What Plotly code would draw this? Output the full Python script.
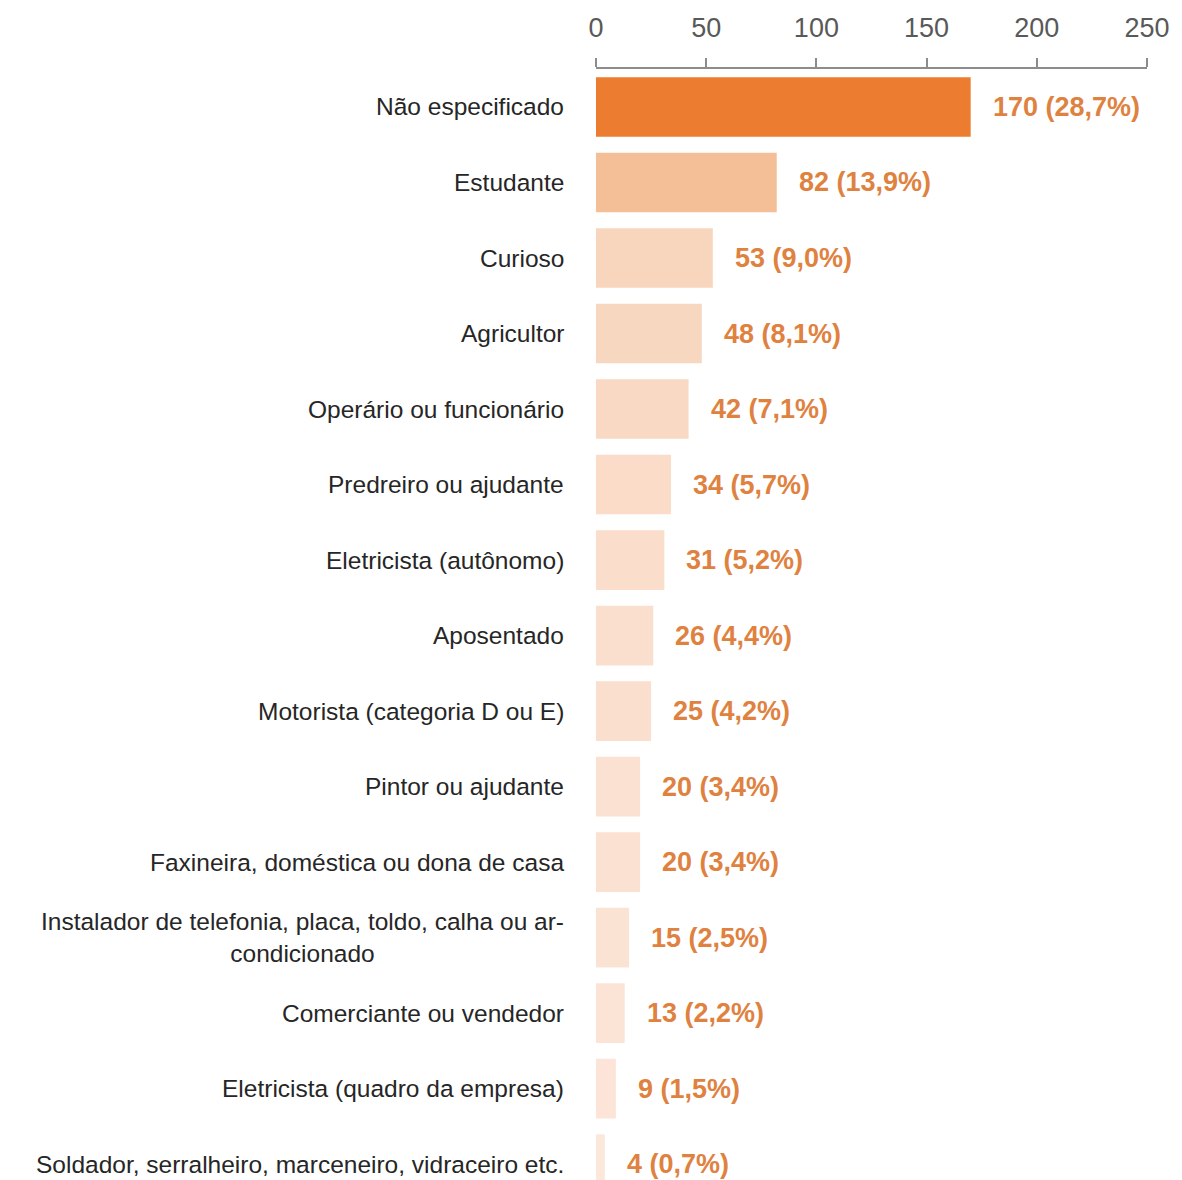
import plotly.graph_objects as go

# Occupations, counts and shares (%)
categories = [
    "Não especificado",
    "Estudante",
    "Curioso",
    "Agricultor",
    "Operário ou funcionário",
    "Predreiro ou ajudante",
    "Eletricista (autônomo)",
    "Aposentado",
    "Motorista (categoria D ou E)",
    "Pintor ou ajudante",
    "Faxineira, doméstica ou dona de casa",
    "Instalador de telefonia, placa, toldo, calha ou ar-<br>condicionado",
    "Comerciante ou vendedor",
    "Eletricista (quadro da empresa)",
    "Soldador, serralheiro, marceneiro, vidraceiro etc.",
]
counts = [170, 82, 53, 48, 42, 34, 31, 26, 25, 20, 20, 15, 13, 9, 4]
shares = [28.7, 13.9, 9.0, 8.1, 7.1, 5.7, 5.2, 4.4, 4.2, 3.4, 3.4, 2.5, 2.2, 1.5, 0.7]
x_ticks = [0, 50, 100, 150, 200, 250]

FONT = "Liberation Sans, Arial, sans-serif"
LABEL_ORANGE = "#E0823F"


def hex_to_rgb(h):
    h = h.lstrip("#")
    return tuple(int(h[i:i + 2], 16) for i in (0, 2, 4))


def lerp_color(c1, c2, t):
    a, b = hex_to_rgb(c1), hex_to_rgb(c2)
    return "rgb({},{},{})".format(*[round(a[i] + (b[i] - a[i]) * t) for i in range(3)])


# Highlight the top two bars; remaining bars fade with their count
colors = []
for i, v in enumerate(counts):
    if i == 0:
        colors.append("#EC7C30")
    elif i == 1:
        colors.append("#F4BE96")
    else:
        t = (counts[2] - v) / (counts[2] - counts[-1])
        colors.append(lerp_color("#F8D5BD", "#FCE7DB", t))

idx = list(range(len(categories)))

fig = go.Figure(
    go.Bar(
        x=counts,
        y=idx,
        orientation="h",
        marker=dict(color=colors, line=dict(width=0)),
        width=0.79,
        hoverinfo="skip",
    )
)

annotations = []
for i, (cat, v, p) in enumerate(zip(categories, counts, shares)):
    # category label on the left
    annotations.append(dict(
        x=0, xref="paper", y=i, yref="y",
        text=cat, showarrow=False,
        xanchor="right", yanchor="middle", align="center",
        xshift=-30,
        font=dict(family=FONT, size=24.5, color="#262626"),
    ))
    # value label at the end of the bar
    annotations.append(dict(
        x=v, xref="x", y=i, yref="y",
        text="<b>{} ({}%)</b>".format(v, f"{p:.1f}".replace(".", ",")),
        showarrow=False,
        xanchor="left", yanchor="middle",
        xshift=20,
        font=dict(family=FONT, size=27, color=LABEL_ORANGE),
    ))

fig.update_layout(
    width=1182,
    height=1180,
    margin=dict(l=596, r=35, t=69, b=0),
    paper_bgcolor="white",
    plot_bgcolor="white",
    showlegend=False,
    bargap=0.2,
    annotations=annotations,
    xaxis=dict(
        side="top",
        range=[0, 250],
        tickvals=x_ticks,
        ticktext=[str(t) for t in x_ticks],
        ticks="outside",
        ticklen=9,
        tickwidth=1.5,
        tickcolor="#8C8C8C",
        showline=True,
        linecolor="#8C8C8C",
        linewidth=1.5,
        showgrid=False,
        zeroline=False,
        ticklabelstandoff=10,
        tickfont=dict(family=FONT, size=27, color="#595959"),
        fixedrange=True,
    ),
    yaxis=dict(
        range=[14.21, -0.503],
        showticklabels=False,
        showgrid=False,
        zeroline=False,
        showline=False,
        ticks="",
        fixedrange=True,
    ),
)

fig.write_html("out.html")
